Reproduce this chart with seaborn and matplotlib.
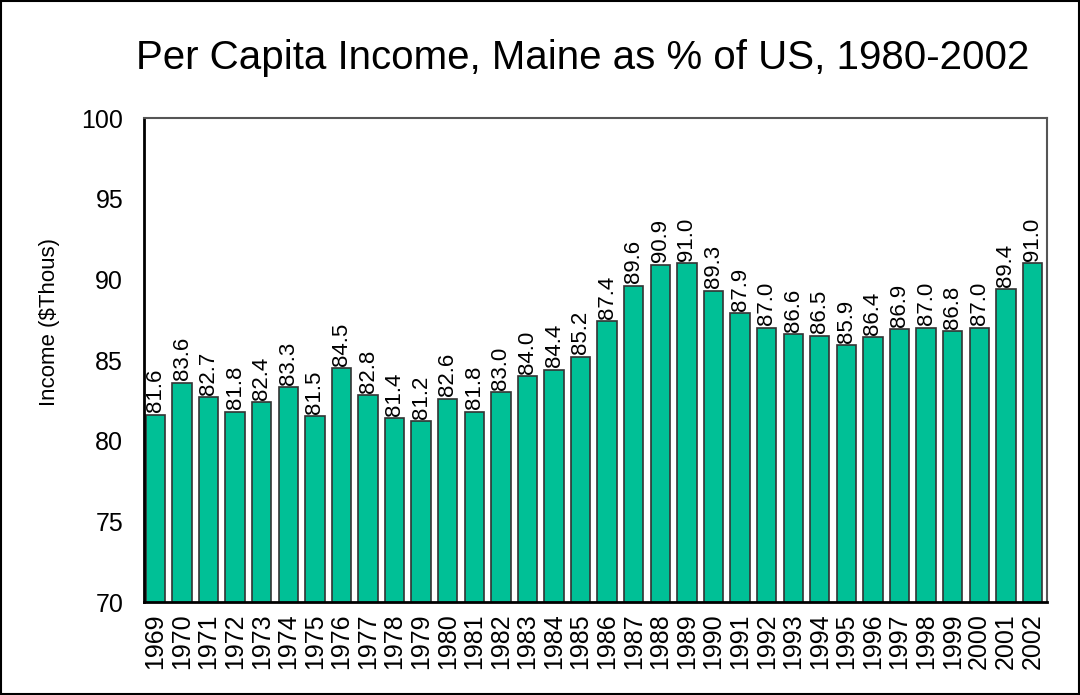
import numpy as np
import pandas as pd
import seaborn as sns
import matplotlib.pyplot as plt

# Date
ani = [str(a) for a in range(1969, 2003)]
procente = [81.6, 83.6, 82.7, 81.8, 82.4, 83.3, 81.5, 84.5, 82.8, 81.4,
            81.2, 82.6, 81.8, 83.0, 84.0, 84.4, 85.2, 87.4, 89.6, 90.9,
            91.0, 89.3, 87.9, 87.0, 86.6, 86.5, 85.9, 86.4, 86.9, 87.0,
            86.8, 87.0, 89.4, 91.0]

date = pd.DataFrame({"an": ani, "procent": procente})

sns.set_style("white")
plt.rcParams['font.family'] = ['Liberation Sans', 'DejaVu Sans']
plt.rcParams['text.color'] = 'black'
plt.rcParams['axes.labelcolor'] = 'black'
plt.rcParams['xtick.color'] = 'black'
plt.rcParams['ytick.color'] = 'black'

fig = plt.figure(figsize=(10.8, 6.95), dpi=100)
ax = fig.add_axes([144 / 1080, 1 - 602 / 695, (1047 - 144) / 1080, (602 - 118) / 695])

sns.barplot(data=date, x="an", y="procent", color="#00C096", saturation=1,
            width=0.73, edgecolor="#333333", linewidth=1.2, ax=ax)

for i, v in enumerate(procente):
    ax.text(i, v + 0.15, f"{v:.1f}", rotation=90, ha="center", va="bottom", fontsize=16)

ax.set_ylim(70, 100)
ax.set_yticks([70, 75, 80, 85, 90, 95, 100])
ax.set_xlim(-0.43, len(ani) - 0.45)
ax.tick_params(axis="y", labelsize=18, length=0, pad=15)
ax.tick_params(axis="x", labelsize=18, length=0, pad=8, rotation=90)
ax.set_xlabel("")
ax.set_ylabel("Income ($Thous)", fontsize=16)
ax.yaxis.set_label_coords((60 - 144) / 903, (602 - 322) / 484)

for s in ["left", "bottom"]:
    ax.spines[s].set_color("black")
    ax.spines[s].set_linewidth(2)
for s in ["top", "right"]:
    ax.spines[s].set_color("#555555")
    ax.spines[s].set_linewidth(1.5)

fig.text(583 / 1080, 1 - 58 / 695, "Per Capita Income, Maine as % of US, 1980-2002",
         ha="center", va="center", fontsize=29)

# chenar in jurul figurii
fig.patches.append(plt.Rectangle((0.001, 0.001), 0.998, 0.998, transform=fig.transFigure,
                                 fill=False, edgecolor="black", linewidth=1.5))

fig.savefig("out.png", dpi=100)
